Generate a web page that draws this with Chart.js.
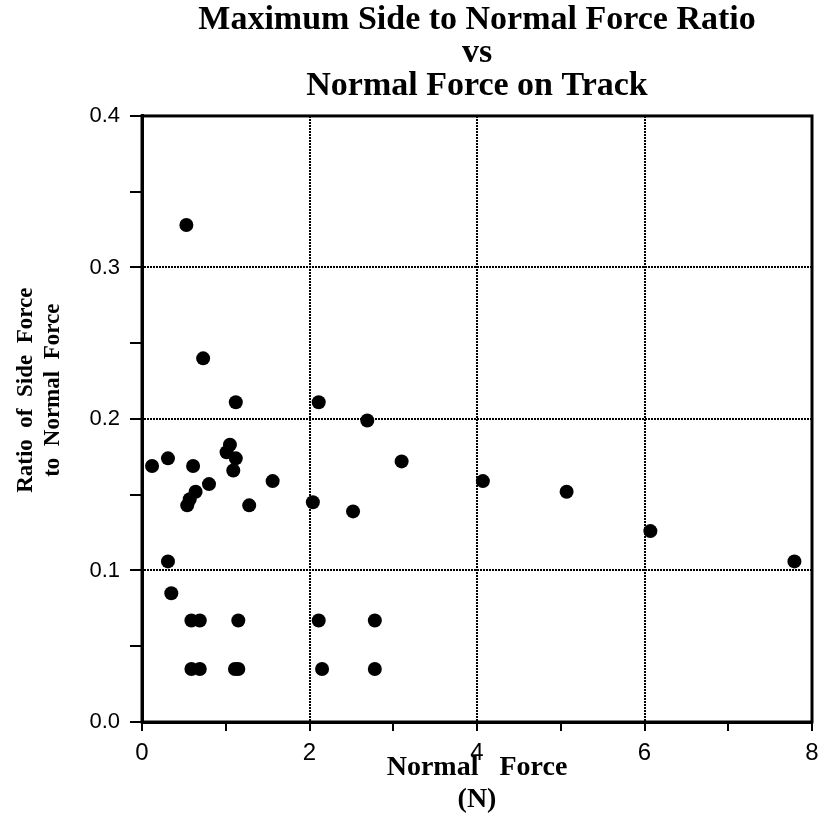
<!DOCTYPE html>
<html>
<head>
<meta charset="utf-8">
<script src="https://cdn.jsdelivr.net/npm/chart.js@4/dist/chart.umd.min.js"></script>
<style>
  html, body { margin: 0; padding: 0; background: #fff; overflow: hidden; }
  #wrap { width: 819px; height: 829px; position: relative; }
  #chart { display: block; }
</style>
</head>
<body>
<div id="wrap"><canvas id="chart"></canvas></div>
<script>
// normal force on track (N)
var normalForce = [
    0.53, 0.73, 1.12, 2.11, 2.69, 1.05, 1.01, 1.12, 1.09, 0.12,
    0.31, 0.61, 3.10, 0.80, 0.64, 0.57, 0.54, 1.28, 1.56, 2.04,
    2.52, 4.07, 5.07, 6.07, 7.79, 0.31, 0.35, 0.59, 0.69, 1.15,
    2.11, 2.78, 0.59, 0.69, 1.11, 1.15, 2.15, 2.78
];
// max side force / normal force
var sideRatio = [
    0.328, 0.240, 0.211, 0.211, 0.199, 0.183, 0.178, 0.174, 0.166, 0.169,
    0.174, 0.169, 0.172, 0.157, 0.152, 0.147, 0.143, 0.143, 0.159, 0.145,
    0.139, 0.159, 0.152, 0.126, 0.106, 0.106, 0.085, 0.067, 0.067, 0.067,
    0.067, 0.067, 0.035, 0.035, 0.035, 0.035, 0.035, 0.035
];
var xTicks = [0, 2, 4, 6, 8];
var yTicks = [0.0, 0.1, 0.2, 0.3, 0.4];

var titleLines = ['Maximum Side to Normal Force Ratio', 'vs', 'Normal Force on Track'];
var xTitle = ['Normal   Force', '(N)'];
var yTitle = ['          Ratio  of  Side  Force', '          to  Normal  Force'];

var points = normalForce.map(function (x, i) { return { x: x, y: sideRatio[i] }; });

function isMajor(v, list) {
    return list.some(function (t) { return Math.abs(t - v) < 1e-6; });
}

// box around the plot area
var frame = {
    id: 'frame',
    afterDraw: function (chart) {
        var a = chart.chartArea, c = chart.ctx;
        c.save();
        c.strokeStyle = '#000';
        c.lineWidth = 3;
        c.strokeRect(a.left, a.top, a.right - a.left, a.bottom - a.top);
        c.restore();
    }
};

var serif = 'Liberation Serif';
var sans = 'Liberation Sans';

var config = {
    type: 'scatter',
    data: {
        datasets: [{
            data: points,
            pointRadius: 7,
            pointHoverRadius: 7,
            pointBackgroundColor: '#000',
            pointBorderWidth: 0
        }]
    },
    options: {
        responsive: true,
        maintainAspectRatio: false,
        animation: false,
        layout: { padding: { left: 0, right: 7, top: 0, bottom: 0 } },
        scales: {
            x: {
                type: 'linear',
                min: 0,
                max: 8,
                afterFit: function (s) {
                    s.height = 107;
                    // let the end labels hang past the plot edges
                    s.paddingLeft = 0;
                    s.paddingRight = 0;
                },
                ticks: {
                    stepSize: 1,
                    autoSkip: false,
                    maxRotation: 0,
                    color: '#000',
                    padding: 8,
                    font: { family: sans, size: 24 },
                    callback: function (v) { return isMajor(v, xTicks) ? String(v) : ''; }
                },
                grid: {
                    color: function (ctx) {
                        return ctx.tick && isMajor(ctx.tick.value, xTicks) ? '#000' : 'rgba(0,0,0,0)';
                    },
                    lineWidth: 2,
                    tickColor: '#000',
                    tickWidth: 2,
                    tickLength: 9
                },
                border: { display: true, color: '#000', width: 3, dash: [2, 1] },
                title: {
                    display: true,
                    text: xTitle,
                    color: '#000',
                    font: { family: serif, size: 28, weight: 'bold', lineHeight: 1.12 },
                    padding: { top: 0, bottom: 14 }
                }
            },
            y: {
                type: 'linear',
                min: 0,
                max: 0.4,
                afterFit: function (s) { s.width = 142; },
                ticks: {
                    stepSize: 0.05,
                    autoSkip: false,
                    color: '#000',
                    padding: 10,
                    font: { family: sans, size: 22 },
                    callback: function (v) { return isMajor(v, yTicks) ? v.toFixed(1) : ''; }
                },
                grid: {
                    color: function (ctx) {
                        return ctx.tick && isMajor(ctx.tick.value, yTicks) ? '#000' : 'rgba(0,0,0,0)';
                    },
                    lineWidth: 2,
                    tickColor: '#000',
                    tickWidth: 2,
                    tickLength: 12
                },
                border: { display: true, color: '#000', width: 3, dash: [2, 1] },
                title: {
                    display: true,
                    text: yTitle,
                    color: '#000',
                    font: { family: serif, size: 23, weight: 'bold', lineHeight: 1.15 },
                    padding: { top: 13, bottom: 0 }
                }
            }
        },
        plugins: {
            legend: { display: false },
            tooltip: { enabled: false },
            title: {
                display: true,
                fullSize: false,
                text: titleLines,
                color: '#000',
                font: { family: serif, size: 34, weight: 'bold', lineHeight: 0.97 },
                padding: { top: 4, bottom: 13 }
            }
        }
    },
    plugins: [frame]
};

var chart = new Chart(document.getElementById('chart'), config);
</script>
</body>
</html>
